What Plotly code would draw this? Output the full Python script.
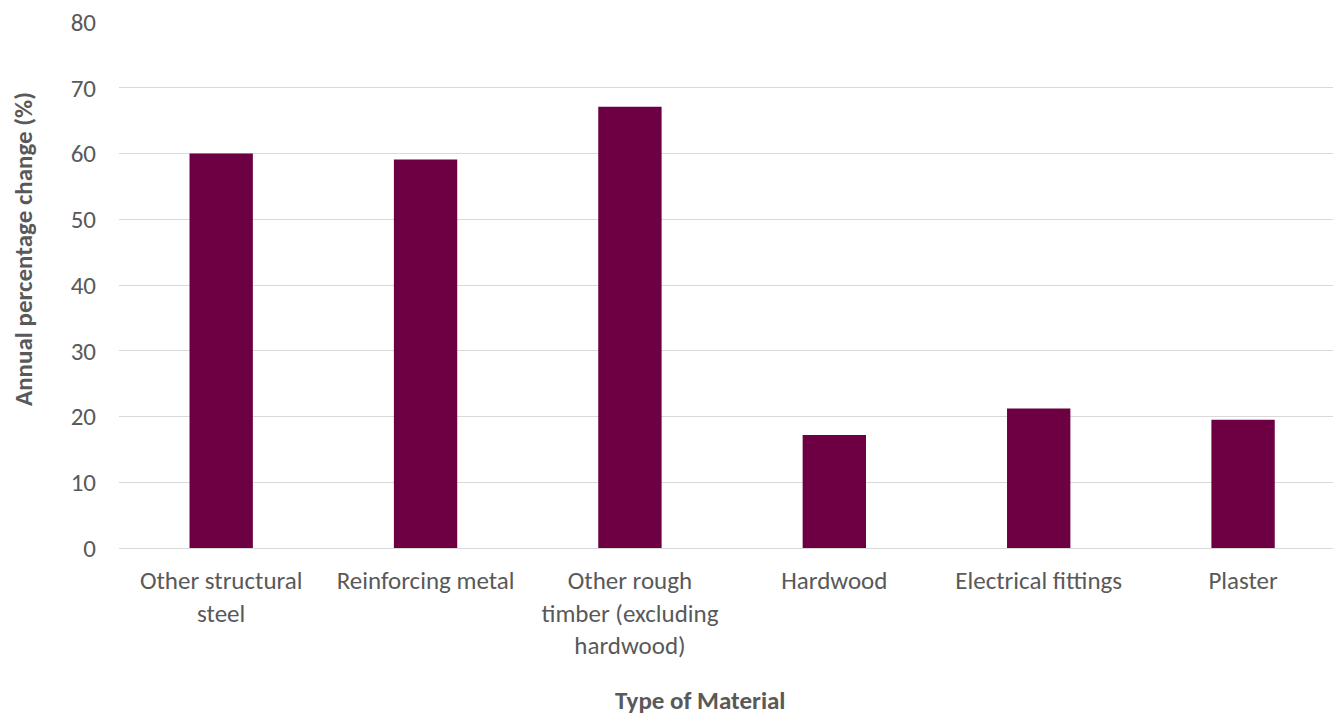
import plotly.graph_objects as go

categories = [
    "Other structural<br>steel",
    "Reinforcing metal",
    "Other rough<br>timber (excluding<br>hardwood)",
    "Hardwood",
    "Electrical fittings",
    "Plaster",
]
values = [60.0, 59.1, 67.1, 17.2, 21.2, 19.5]
y_ticks = [0, 10, 20, 30, 40, 50, 60, 70, 80]

font_family = "Carlito, Lato, Open Sans"
text_color = "#595959"
fs = 25

fig = go.Figure(
    go.Bar(
        x=categories,
        y=values,
        marker=dict(color="#6d0042", line=dict(width=0)),
        width=0.31,
    )
)

W, H = 1333, 715
ml, mr, mt, mb = 119, 0, 22, 167

fig.update_layout(
    width=W,
    height=H,
    margin=dict(l=ml, r=mr, t=mt, b=mb),
    plot_bgcolor="white",
    paper_bgcolor="white",
    showlegend=False,
    font=dict(family=font_family, color=text_color, size=fs),
)

fig.update_xaxes(
    range=[-0.5, 5.44],
    showgrid=False,
    showline=True,
    linecolor="#d9d9d9",
    linewidth=1,
    ticks="",
    ticklabelstandoff=10,
    tickfont=dict(size=fs, color=text_color),
    automargin=False,
)

fig.update_yaxes(
    range=[0, 80],
    tickvals=y_ticks,
    showgrid=True,
    gridcolor="#d9d9d9",
    gridwidth=1,
    zeroline=False,
    ticks="",
    ticklabelstandoff=22,
    tickfont=dict(size=fs, color=text_color),
    automargin=False,
)

pw = W - ml - mr
ph = H - mt - mb
# axis titles placed as annotations in paper coordinates
fig.add_annotation(
    text="<b>Type of Material</b>",
    xref="paper", yref="paper",
    x=(700 - ml) / pw, y=-(700 - (mt + ph)) / ph,
    showarrow=False, xanchor="center", yanchor="middle",
    font=dict(size=fs, color=text_color, family=font_family),
)
fig.add_annotation(
    text="<b>Annual percentage change (%)</b>",
    xref="paper", yref="paper",
    x=-(ml - 23) / pw, y=1 - (249 - mt) / ph,
    showarrow=False, xanchor="center", yanchor="middle",
    textangle=-90,
    font=dict(size=fs, color=text_color, family=font_family),
)

fig.write_html("out.html")
